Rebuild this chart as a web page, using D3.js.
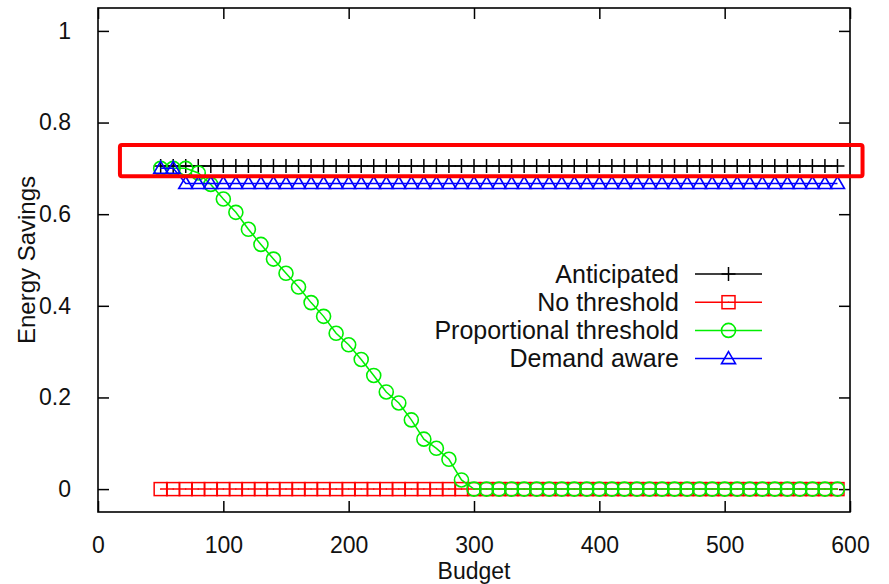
<!DOCTYPE html>
<html>
<head>
<meta charset="utf-8">
<script src="https://cdn.jsdelivr.net/npm/d3@7"></script>
<style>
  html, body { margin: 0; padding: 0; background: #fff; }
  svg text { font-family: "Liberation Sans", Arial, sans-serif; fill: #111; }
</style>
</head>
<body>
<svg id="chart" width="889" height="584"></svg>
<script>
// Budget values (x) shared by every series
const budget = d3.range(50, 600, 10);

// Energy savings per series
const anticipated = budget.map(() => 0.705);
const noThreshold = budget.map(() => 0);
const proportional = [
  0.700, 0.700, 0.700, 0.690, 0.665, 0.633, 0.604, 0.567, 0.534, 0.502,
  0.471, 0.441, 0.407, 0.377, 0.340, 0.315, 0.283, 0.248, 0.212, 0.188,
  0.151, 0.109, 0.089, 0.065, 0.020, 0, 0, 0, 0, 0,
  0, 0, 0, 0, 0, 0, 0, 0, 0, 0,
  0, 0, 0, 0, 0, 0, 0, 0, 0, 0,
  0, 0, 0, 0, 0
];
const demandAware = budget.map(b => (b < 70 ? 0.70 : 0.667));

const seriesNames = ["Anticipated", "No threshold", "Proportional threshold", "Demand aware"];
const seriesColors = ["#000000", "#ff0000", "#00ee00", "#0000ff"];
const seriesMarkers = ["plus", "square", "circle", "triangle"];
const seriesValues = [anticipated, noThreshold, proportional, demandAware];

const xTicks = [0, 100, 200, 300, 400, 500, 600];
const yTicks = [0, 0.2, 0.4, 0.6, 0.8, 1];
const yTickLabels = ["0", "0.2", "0.4", "0.6", "0.8", "1"];

// Highlight box around the top series: [budget0, budget1, savings0, savings1]
const highlight = [17.5, 610, 0.683, 0.751];

const svg = d3.select("#chart");
const plotLeft = 98, plotRight = 850, plotTop = 8, plotBottom = 512;

const x = d3.scaleLinear().domain([0, 600]).range([plotLeft, plotRight]);
const y = d3.scaleLinear().domain([-0.05, 1.05]).range([plotBottom, plotTop]);

// Axes with inward ticks, mirrored on the opposite side
const tickLen = 11;
const gx = svg.append("g").attr("transform", `translate(0,${plotBottom})`)
  .call(d3.axisBottom(x).tickValues(xTicks).tickSizeInner(-tickLen).tickSizeOuter(0).tickPadding(tickLen + 14));
const gxTop = svg.append("g").attr("transform", `translate(0,${plotTop})`)
  .call(d3.axisTop(x).tickValues(xTicks).tickSizeInner(-tickLen).tickSizeOuter(0).tickFormat(""));
const gy = svg.append("g").attr("transform", `translate(${plotLeft},0)`)
  .call(d3.axisLeft(y).tickValues(yTicks).tickFormat((d, i) => yTickLabels[i]).tickSizeInner(-tickLen).tickSizeOuter(0).tickPadding(tickLen + 16));
const gyRight = svg.append("g").attr("transform", `translate(${plotRight},0)`)
  .call(d3.axisRight(y).tickValues(yTicks).tickSizeInner(-tickLen).tickSizeOuter(0).tickFormat(""));

[gx, gxTop, gy, gyRight].forEach(g => {
  g.select(".domain").remove();
  g.selectAll(".tick line").attr("stroke", "#000").attr("stroke-width", 1.5);
  g.selectAll(".tick text").style("font-size", "23px").attr("fill", "#111");
});
gx.selectAll(".tick text").attr("dy", "0.71em");

// Plot frame
svg.append("rect")
  .attr("x", plotLeft).attr("y", plotTop)
  .attr("width", plotRight - plotLeft).attr("height", plotBottom - plotTop)
  .attr("fill", "none").attr("stroke", "#000").attr("stroke-width", 1.6);

// Axis titles
svg.append("text")
  .attr("x", x(300)).attr("y", 579)
  .attr("text-anchor", "middle")
  .style("font-size", "23px")
  .text("Budget");
svg.append("text")
  .attr("transform", `translate(35,${y(0.5)}) rotate(-90)`)
  .attr("text-anchor", "middle")
  .style("font-size", "24px")
  .text("Energy Savings");

// Marker drawing
function drawMarker(g, type, color, cx, cy) {
  if (type === "plus") {
    g.append("path").attr("d", `M${cx - 7},${cy}H${cx + 7}M${cx},${cy - 7}V${cy + 7}`)
      .attr("stroke", color).attr("stroke-width", 1.5).attr("fill", "none");
  } else if (type === "square") {
    g.append("rect").attr("x", cx - 6.5).attr("y", cy - 6.5).attr("width", 13).attr("height", 13)
      .attr("stroke", color).attr("stroke-width", 1.5).attr("fill", "none");
    g.append("circle").attr("cx", cx).attr("cy", cy).attr("r", 0.8).attr("fill", color);
  } else if (type === "circle") {
    g.append("circle").attr("cx", cx).attr("cy", cy).attr("r", 7)
      .attr("stroke", color).attr("stroke-width", 1.6).attr("fill", "none");
  } else if (type === "triangle") {
    g.append("path").attr("d", `M${cx},${cy - 7}L${cx + 7},${cy + 5}L${cx - 7},${cy + 5}Z`)
      .attr("stroke", color).attr("stroke-width", 1.6).attr("fill", "none");
  }
}

const line = d3.line().x(d => x(d[0])).y(d => y(d[1]));

// Series: lines and markers
seriesValues.forEach((vals, si) => {
  const pts = budget.map((b, i) => [b, vals[i]]);
  const g = svg.append("g");
  g.append("path").datum(pts).attr("d", line)
    .attr("fill", "none").attr("stroke", seriesColors[si]).attr("stroke-width", 1.5);
  pts.forEach(p => drawMarker(g, seriesMarkers[si], seriesColors[si], x(p[0]), y(p[1])));
});

// Legend
const legendRight = 679, legendY0 = 274, legendStep = 28.2;
seriesNames.forEach((name, i) => {
  const ly = legendY0 + i * legendStep;
  svg.append("text")
    .attr("x", legendRight).attr("y", ly).attr("dy", "0.35em")
    .attr("text-anchor", "end")
    .style("font-size", "25px")
    .text(name);
  const g = svg.append("g");
  g.append("line").attr("x1", 695).attr("x2", 762).attr("y1", ly).attr("y2", ly)
    .attr("stroke", seriesColors[i]).attr("stroke-width", 1.5);
  drawMarker(g, seriesMarkers[i], seriesColors[i], 728.5, ly);
});

// Highlight box
svg.append("rect")
  .attr("x", x(highlight[0])).attr("y", y(highlight[3]))
  .attr("width", x(highlight[1]) - x(highlight[0]))
  .attr("height", y(highlight[2]) - y(highlight[3]))
  .attr("rx", 2)
  .attr("fill", "none").attr("stroke", "#ff0000").attr("stroke-width", 4);
</script>
</body>
</html>
